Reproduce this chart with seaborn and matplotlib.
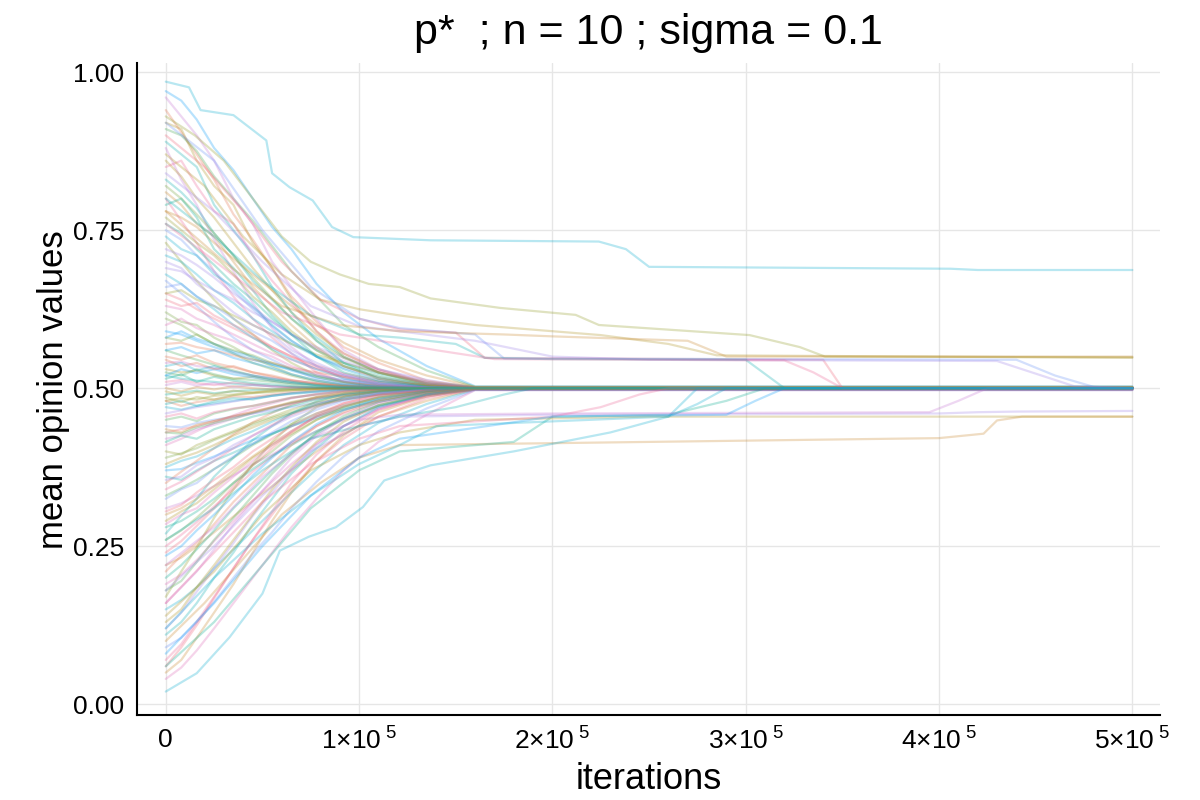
import matplotlib
matplotlib.use("Agg")
import pandas as pd
import matplotlib.pyplot as plt
import seaborn as sns
from matplotlib import font_manager

# knots (thousands of iterations) for the runs that collapse onto 0.5
core_t = [0, 8, 16, 25, 35, 45, 55, 65, 78, 92, 110, 135, 160]

core_runs = [
    [0.97, 0.955, 0.925, 0.88, 0.845, 0.80, 0.755, 0.72, 0.665, 0.62, 0.578, 0.535, 0.503],
    [0.94, 0.905, 0.87, 0.83, 0.775, 0.735, 0.69, 0.645, 0.605, 0.565, 0.54, 0.512, 0.501],
    [0.91, 0.90, 0.875, 0.835, 0.80, 0.765, 0.725, 0.685, 0.645, 0.60, 0.565, 0.528, 0.502],
    [0.88, 0.83, 0.79, 0.735, 0.685, 0.635, 0.595, 0.565, 0.535, 0.515, 0.505, 0.501, 0.500],
    [0.86, 0.835, 0.80, 0.77, 0.73, 0.69, 0.655, 0.62, 0.585, 0.555, 0.53, 0.508, 0.500],
    [0.83, 0.81, 0.785, 0.745, 0.71, 0.67, 0.64, 0.61, 0.58, 0.55, 0.525, 0.507, 0.501],
    [0.80, 0.765, 0.73, 0.685, 0.645, 0.61, 0.58, 0.555, 0.525, 0.51, 0.503, 0.500, 0.500],
    [0.78, 0.77, 0.755, 0.73, 0.705, 0.68, 0.655, 0.63, 0.60, 0.572, 0.545, 0.52, 0.502],
    [0.76, 0.745, 0.72, 0.695, 0.665, 0.64, 0.61, 0.585, 0.56, 0.54, 0.522, 0.506, 0.500],
    [0.73, 0.70, 0.67, 0.64, 0.61, 0.585, 0.56, 0.54, 0.52, 0.51, 0.503, 0.500, 0.499],
    [0.71, 0.70, 0.68, 0.655, 0.635, 0.61, 0.59, 0.57, 0.55, 0.535, 0.518, 0.505, 0.500],
    [0.69, 0.685, 0.67, 0.655, 0.64, 0.62, 0.605, 0.585, 0.565, 0.548, 0.53, 0.513, 0.501],
    [0.67, 0.65, 0.63, 0.605, 0.58, 0.56, 0.545, 0.53, 0.515, 0.507, 0.502, 0.500, 0.500],
    [0.65, 0.64, 0.625, 0.61, 0.595, 0.58, 0.565, 0.55, 0.536, 0.523, 0.513, 0.504, 0.500],
    [0.63, 0.625, 0.61, 0.60, 0.585, 0.57, 0.555, 0.545, 0.53, 0.52, 0.51, 0.503, 0.500],
    [0.61, 0.60, 0.585, 0.57, 0.555, 0.54, 0.53, 0.52, 0.51, 0.504, 0.501, 0.500, 0.500],
    [0.59, 0.585, 0.575, 0.565, 0.555, 0.545, 0.537, 0.53, 0.52, 0.513, 0.507, 0.502, 0.500],
    [0.57, 0.572, 0.565, 0.56, 0.552, 0.545, 0.54, 0.532, 0.525, 0.518, 0.51, 0.505, 0.501],
    [0.56, 0.552, 0.545, 0.537, 0.528, 0.52, 0.514, 0.51, 0.505, 0.502, 0.500, 0.500, 0.500],
    [0.54, 0.542, 0.535, 0.532, 0.526, 0.52, 0.516, 0.512, 0.508, 0.505, 0.502, 0.501, 0.500],
    [0.53, 0.525, 0.528, 0.52, 0.515, 0.518, 0.512, 0.508, 0.506, 0.503, 0.501, 0.500, 0.500],
    [0.52, 0.515, 0.512, 0.51, 0.507, 0.505, 0.503, 0.502, 0.501, 0.500, 0.500, 0.500, 0.500],
    [0.51, 0.513, 0.508, 0.505, 0.509, 0.506, 0.503, 0.502, 0.501, 0.501, 0.500, 0.500, 0.500],
    [0.50, 0.495, 0.502, 0.498, 0.503, 0.500, 0.498, 0.501, 0.500, 0.500, 0.500, 0.500, 0.500],
    [0.49, 0.493, 0.496, 0.492, 0.495, 0.497, 0.498, 0.499, 0.500, 0.500, 0.500, 0.500, 0.500],
    [0.48, 0.484, 0.482, 0.488, 0.49, 0.493, 0.495, 0.497, 0.498, 0.499, 0.500, 0.500, 0.500],
    [0.47, 0.466, 0.472, 0.476, 0.48, 0.484, 0.488, 0.491, 0.494, 0.497, 0.499, 0.500, 0.500],
    [0.46, 0.465, 0.47, 0.474, 0.479, 0.484, 0.488, 0.492, 0.495, 0.498, 0.499, 0.500, 0.500],
    [0.44, 0.438, 0.445, 0.45, 0.455, 0.46, 0.465, 0.47, 0.477, 0.483, 0.49, 0.496, 0.499],
    [0.43, 0.435, 0.44, 0.448, 0.455, 0.463, 0.47, 0.476, 0.483, 0.489, 0.494, 0.498, 0.500],
    [0.41, 0.42, 0.432, 0.445, 0.457, 0.468, 0.476, 0.484, 0.491, 0.496, 0.499, 0.500, 0.500],
    [0.39, 0.397, 0.405, 0.418, 0.43, 0.442, 0.453, 0.462, 0.474, 0.482, 0.49, 0.496, 0.500],
    [0.37, 0.372, 0.382, 0.392, 0.405, 0.418, 0.428, 0.44, 0.453, 0.466, 0.479, 0.49, 0.498],
    [0.35, 0.368, 0.385, 0.405, 0.427, 0.446, 0.461, 0.474, 0.486, 0.494, 0.498, 0.500, 0.500],
    [0.33, 0.342, 0.355, 0.372, 0.39, 0.41, 0.427, 0.443, 0.46, 0.473, 0.485, 0.495, 0.500],
    [0.31, 0.318, 0.33, 0.345, 0.362, 0.38, 0.395, 0.413, 0.432, 0.45, 0.47, 0.487, 0.498],
    [0.29, 0.305, 0.318, 0.34, 0.365, 0.39, 0.41, 0.428, 0.45, 0.466, 0.481, 0.494, 0.500],
    [0.27, 0.298, 0.325, 0.36, 0.39, 0.418, 0.44, 0.46, 0.479, 0.491, 0.497, 0.500, 0.500],
    [0.25, 0.268, 0.288, 0.313, 0.34, 0.368, 0.392, 0.415, 0.44, 0.46, 0.478, 0.493, 0.499],
    [0.22, 0.232, 0.25, 0.272, 0.297, 0.322, 0.345, 0.37, 0.40, 0.428, 0.455, 0.48, 0.498],
    [0.20, 0.22, 0.245, 0.275, 0.31, 0.34, 0.37, 0.398, 0.428, 0.452, 0.473, 0.49, 0.499],
    [0.17, 0.21, 0.248, 0.295, 0.34, 0.38, 0.415, 0.443, 0.47, 0.486, 0.495, 0.499, 0.500],
    [0.15, 0.165, 0.185, 0.215, 0.245, 0.275, 0.305, 0.335, 0.372, 0.41, 0.445, 0.475, 0.498],
    [0.12, 0.145, 0.178, 0.215, 0.255, 0.298, 0.335, 0.37, 0.41, 0.44, 0.468, 0.49, 0.499],
    [0.09, 0.105, 0.13, 0.162, 0.20, 0.238, 0.272, 0.31, 0.352, 0.392, 0.432, 0.468, 0.497],
    [0.06, 0.09, 0.125, 0.168, 0.215, 0.26, 0.30, 0.34, 0.385, 0.42, 0.455, 0.484, 0.498],
    [0.04, 0.058, 0.085, 0.12, 0.16, 0.20, 0.24, 0.28, 0.325, 0.37, 0.415, 0.458, 0.497],
    [0.62, 0.605, 0.60, 0.58, 0.565, 0.548, 0.535, 0.522, 0.512, 0.505, 0.501, 0.500, 0.500],
    [0.58, 0.59, 0.578, 0.57, 0.558, 0.55, 0.538, 0.528, 0.517, 0.51, 0.504, 0.501, 0.500],
    [0.55, 0.545, 0.552, 0.54, 0.533, 0.525, 0.52, 0.513, 0.507, 0.503, 0.501, 0.500, 0.500],
    [0.45, 0.455, 0.448, 0.46, 0.467, 0.472, 0.478, 0.485, 0.49, 0.495, 0.498, 0.500, 0.500],
    [0.42, 0.425, 0.435, 0.442, 0.452, 0.46, 0.468, 0.476, 0.484, 0.49, 0.496, 0.499, 0.500],
    [0.38, 0.39, 0.398, 0.41, 0.425, 0.438, 0.45, 0.46, 0.472, 0.482, 0.49, 0.497, 0.500],
    [0.36, 0.355, 0.37, 0.385, 0.398, 0.412, 0.428, 0.44, 0.456, 0.469, 0.482, 0.493, 0.499],
    [0.34, 0.352, 0.368, 0.385, 0.405, 0.425, 0.442, 0.458, 0.474, 0.486, 0.494, 0.499, 0.500],
    [0.30, 0.31, 0.325, 0.345, 0.37, 0.392, 0.413, 0.432, 0.455, 0.471, 0.485, 0.495, 0.500],
    [0.28, 0.29, 0.305, 0.325, 0.35, 0.372, 0.393, 0.41, 0.432, 0.452, 0.472, 0.489, 0.498],
    [0.65, 0.655, 0.64, 0.63, 0.615, 0.60, 0.585, 0.57, 0.553, 0.54, 0.525, 0.51, 0.502],
    [0.68, 0.665, 0.645, 0.625, 0.60, 0.58, 0.562, 0.546, 0.53, 0.516, 0.506, 0.501, 0.500],
    [0.72, 0.71, 0.695, 0.675, 0.65, 0.628, 0.605, 0.585, 0.562, 0.543, 0.525, 0.509, 0.501],
    [0.75, 0.735, 0.71, 0.685, 0.655, 0.625, 0.598, 0.575, 0.55, 0.532, 0.516, 0.505, 0.500],
    [0.24, 0.258, 0.282, 0.31, 0.345, 0.378, 0.405, 0.43, 0.457, 0.476, 0.49, 0.498, 0.500],
    [0.19, 0.205, 0.228, 0.258, 0.29, 0.322, 0.352, 0.38, 0.412, 0.44, 0.466, 0.487, 0.498],
    [0.82, 0.80, 0.775, 0.745, 0.71, 0.675, 0.642, 0.61, 0.575, 0.548, 0.525, 0.508, 0.501],
    [0.52, 0.53, 0.524, 0.53, 0.522, 0.517, 0.512, 0.508, 0.504, 0.502, 0.500, 0.500, 0.500],
    [0.48, 0.472, 0.478, 0.482, 0.487, 0.486, 0.49, 0.494, 0.497, 0.499, 0.500, 0.500, 0.500],
    [0.43, 0.428, 0.438, 0.445, 0.452, 0.461, 0.469, 0.477, 0.485, 0.491, 0.496, 0.499, 0.500],
    [0.96, 0.93, 0.90, 0.86, 0.80, 0.76, 0.70, 0.66, 0.61, 0.56, 0.53, 0.51, 0.500],
    [0.92, 0.91, 0.86, 0.82, 0.79, 0.73, 0.69, 0.64, 0.59, 0.55, 0.525, 0.505, 0.500],
    [0.89, 0.87, 0.85, 0.79, 0.75, 0.71, 0.66, 0.62, 0.575, 0.54, 0.515, 0.503, 0.500],
    [0.85, 0.86, 0.82, 0.78, 0.76, 0.71, 0.67, 0.635, 0.59, 0.555, 0.528, 0.507, 0.500],
    [0.81, 0.79, 0.76, 0.74, 0.70, 0.66, 0.63, 0.60, 0.565, 0.535, 0.515, 0.503, 0.500],
    [0.79, 0.80, 0.77, 0.72, 0.69, 0.655, 0.615, 0.585, 0.55, 0.525, 0.51, 0.502, 0.500],
    [0.77, 0.75, 0.73, 0.71, 0.68, 0.645, 0.62, 0.59, 0.56, 0.535, 0.518, 0.504, 0.500],
    [0.74, 0.72, 0.71, 0.68, 0.66, 0.63, 0.60, 0.575, 0.55, 0.53, 0.512, 0.502, 0.500],
    [0.70, 0.69, 0.665, 0.645, 0.62, 0.60, 0.585, 0.56, 0.54, 0.522, 0.508, 0.501, 0.500],
    [0.66, 0.665, 0.645, 0.63, 0.61, 0.59, 0.575, 0.555, 0.535, 0.52, 0.507, 0.501, 0.500],
    [0.64, 0.63, 0.635, 0.615, 0.60, 0.585, 0.565, 0.55, 0.532, 0.518, 0.506, 0.501, 0.500],
    [0.60, 0.61, 0.595, 0.585, 0.575, 0.56, 0.55, 0.535, 0.522, 0.511, 0.504, 0.500, 0.500],
    [0.58, 0.575, 0.585, 0.57, 0.56, 0.552, 0.54, 0.53, 0.518, 0.509, 0.503, 0.500, 0.500],
    [0.56, 0.565, 0.555, 0.56, 0.548, 0.54, 0.532, 0.522, 0.512, 0.506, 0.502, 0.500, 0.500],
    [0.545, 0.535, 0.54, 0.53, 0.535, 0.525, 0.518, 0.512, 0.507, 0.503, 0.501, 0.500, 0.500],
    [0.525, 0.52, 0.53, 0.522, 0.515, 0.513, 0.51, 0.506, 0.503, 0.501, 0.500, 0.500, 0.500],
    [0.505, 0.51, 0.504, 0.508, 0.502, 0.505, 0.503, 0.501, 0.500, 0.500, 0.500, 0.500, 0.500],
    [0.495, 0.488, 0.494, 0.49, 0.496, 0.493, 0.497, 0.498, 0.499, 0.500, 0.500, 0.500, 0.500],
    [0.475, 0.48, 0.472, 0.479, 0.484, 0.482, 0.488, 0.492, 0.495, 0.498, 0.499, 0.500, 0.500],
    [0.455, 0.46, 0.452, 0.462, 0.468, 0.472, 0.479, 0.485, 0.49, 0.495, 0.498, 0.500, 0.500],
    [0.435, 0.43, 0.442, 0.448, 0.456, 0.462, 0.47, 0.478, 0.486, 0.492, 0.497, 0.500, 0.500],
    [0.415, 0.425, 0.42, 0.435, 0.445, 0.455, 0.462, 0.472, 0.482, 0.489, 0.495, 0.499, 0.500],
    [0.40, 0.395, 0.41, 0.42, 0.432, 0.445, 0.455, 0.466, 0.478, 0.487, 0.494, 0.499, 0.500],
    [0.375, 0.385, 0.392, 0.405, 0.42, 0.432, 0.447, 0.46, 0.474, 0.485, 0.493, 0.499, 0.500],
    [0.355, 0.36, 0.378, 0.39, 0.41, 0.425, 0.44, 0.455, 0.47, 0.482, 0.492, 0.498, 0.500],
    [0.325, 0.34, 0.35, 0.372, 0.392, 0.412, 0.43, 0.448, 0.466, 0.48, 0.491, 0.498, 0.500],
    [0.305, 0.315, 0.335, 0.355, 0.375, 0.40, 0.42, 0.44, 0.46, 0.476, 0.489, 0.497, 0.500],
    [0.285, 0.30, 0.31, 0.335, 0.36, 0.385, 0.41, 0.432, 0.455, 0.472, 0.487, 0.496, 0.500],
    [0.26, 0.275, 0.295, 0.32, 0.35, 0.378, 0.40, 0.425, 0.45, 0.47, 0.486, 0.496, 0.500],
    [0.235, 0.25, 0.275, 0.30, 0.33, 0.362, 0.39, 0.415, 0.443, 0.465, 0.483, 0.495, 0.500],
    [0.21, 0.235, 0.255, 0.285, 0.32, 0.35, 0.38, 0.41, 0.44, 0.462, 0.481, 0.494, 0.500],
    [0.18, 0.195, 0.225, 0.26, 0.295, 0.33, 0.365, 0.395, 0.43, 0.456, 0.478, 0.493, 0.500],
    [0.16, 0.185, 0.21, 0.245, 0.285, 0.32, 0.355, 0.39, 0.425, 0.452, 0.476, 0.492, 0.500],
    [0.13, 0.15, 0.185, 0.22, 0.26, 0.30, 0.34, 0.375, 0.415, 0.447, 0.473, 0.491, 0.500],
    [0.11, 0.13, 0.16, 0.20, 0.24, 0.285, 0.325, 0.365, 0.405, 0.44, 0.47, 0.49, 0.499],
    [0.07, 0.095, 0.13, 0.17, 0.215, 0.26, 0.305, 0.35, 0.395, 0.432, 0.466, 0.489, 0.499],
    [0.05, 0.07, 0.105, 0.145, 0.19, 0.24, 0.29, 0.335, 0.385, 0.425, 0.462, 0.487, 0.499],
    [0.515, 0.522, 0.51, 0.518, 0.512, 0.508, 0.506, 0.503, 0.501, 0.500, 0.500, 0.500, 0.500],
    [0.485, 0.478, 0.486, 0.482, 0.489, 0.492, 0.494, 0.497, 0.499, 0.500, 0.500, 0.500, 0.500],
    [0.535, 0.54, 0.528, 0.535, 0.526, 0.52, 0.515, 0.51, 0.505, 0.502, 0.501, 0.500, 0.500],
]

# runs that stay off-centre for a long time: own knots (thousands) + values
slow_t = [
    [0, 12, 18, 35, 52, 55, 64, 76, 86, 97, 137, 224, 238, 250, 406, 420, 500],
    [0, 15, 30, 45, 60, 75, 90, 105, 121, 137, 173, 212, 224, 302, 328, 341, 500],
    [0, 20, 40, 60, 80, 100, 121, 160, 225, 260, 285, 500],
    [0, 20, 40, 60, 80, 100, 121, 150, 165, 340, 350, 500],
    [0, 25, 50, 75, 100, 121, 160, 175, 440, 460, 480, 500],
    [0, 25, 50, 75, 100, 121, 160, 200, 250, 430, 470, 500],
    [0, 25, 50, 75, 100, 121, 150, 165, 200, 300, 320, 500],
    [0, 30, 60, 90, 121, 175, 200, 270, 290, 500],
    [0, 30, 60, 90, 121, 140, 170, 320, 335, 350, 500],
    [0, 20, 40, 60, 80, 100, 121, 200, 300, 400, 423, 430, 443, 500],
    [0, 16, 33, 50, 59, 74, 88, 102, 113, 137, 180, 230, 260, 275, 500],
    [0, 25, 50, 75, 100, 121, 180, 200, 260, 290, 310, 500],
    [0, 25, 50, 75, 100, 121, 160, 250, 500],
    [0, 25, 50, 75, 100, 121, 200, 400, 420, 440, 500],
    [0, 25, 50, 75, 100, 121, 200, 395, 410, 425, 500],
    [0, 25, 50, 75, 100, 121, 200, 225, 245, 260, 500],
    [0, 25, 50, 75, 100, 121, 200, 290, 305, 320, 500],
    [0, 25, 50, 75, 100, 121, 150, 175, 190, 500],
    [0, 25, 50, 75, 100, 121, 140, 260, 275, 290, 500],
]
slow_v = [
    [0.985, 0.976, 0.94, 0.932, 0.892, 0.84, 0.818, 0.797, 0.755, 0.739, 0.734, 0.732, 0.72, 0.692, 0.689, 0.687, 0.687],
    [0.93, 0.90, 0.86, 0.80, 0.74, 0.70, 0.68, 0.665, 0.66, 0.642, 0.627, 0.616, 0.60, 0.584, 0.565, 0.55, 0.549],
    [0.87, 0.82, 0.74, 0.68, 0.64, 0.625, 0.615, 0.60, 0.584, 0.57, 0.552, 0.548],
    [0.90, 0.85, 0.78, 0.70, 0.64, 0.61, 0.593, 0.588, 0.548, 0.545, 0.50, 0.50],
    [0.92, 0.86, 0.75, 0.66, 0.61, 0.595, 0.585, 0.547, 0.545, 0.52, 0.502, 0.50],
    [0.84, 0.78, 0.70, 0.63, 0.598, 0.59, 0.575, 0.55, 0.545, 0.543, 0.503, 0.50],
    [0.80, 0.74, 0.67, 0.615, 0.585, 0.58, 0.57, 0.548, 0.546, 0.545, 0.50, 0.50],
    [0.78, 0.70, 0.63, 0.60, 0.59, 0.585, 0.582, 0.575, 0.55, 0.55],
    [0.76, 0.69, 0.62, 0.585, 0.57, 0.56, 0.546, 0.544, 0.525, 0.50, 0.50],
    [0.10, 0.16, 0.23, 0.30, 0.35, 0.39, 0.41, 0.413, 0.417, 0.421, 0.428, 0.449, 0.455, 0.455],
    [0.02, 0.049, 0.106, 0.175, 0.243, 0.265, 0.28, 0.312, 0.354, 0.378, 0.40, 0.43, 0.455, 0.50, 0.50],
    [0.06, 0.13, 0.22, 0.31, 0.37, 0.40, 0.415, 0.455, 0.458, 0.48, 0.50, 0.50],
    [0.14, 0.21, 0.30, 0.37, 0.41, 0.43, 0.45, 0.455, 0.455],
    [0.18, 0.25, 0.33, 0.40, 0.44, 0.455, 0.458, 0.46, 0.462, 0.463, 0.464],
    [0.22, 0.28, 0.36, 0.42, 0.45, 0.458, 0.46, 0.462, 0.48, 0.50, 0.50],
    [0.16, 0.24, 0.32, 0.38, 0.42, 0.44, 0.455, 0.47, 0.49, 0.50, 0.50],
    [0.08, 0.16, 0.25, 0.33, 0.39, 0.42, 0.455, 0.458, 0.48, 0.50, 0.50],
    [0.26, 0.31, 0.37, 0.42, 0.44, 0.455, 0.47, 0.49, 0.50, 0.50],
    [0.12, 0.20, 0.27, 0.33, 0.38, 0.41, 0.44, 0.455, 0.475, 0.50, 0.50],
]

julia = ["#009AFA", "#E36F47", "#3EA44E", "#C371D2", "#AC8E18", "#00AAAE",
         "#ED5E93", "#C68225", "#00A98D", "#8E971D", "#00A9CD", "#9B7FE8",
         "#618DF6", "#F05F73", "#DD65B6", "#6C9F33"]
slow_colors = ["#00A9CD", "#8E971D", "#AC8E18", "#F05F73", "#618DF6", "#9B7FE8",
               "#00AAAE", "#C68225", "#ED5E93", "#C68225", "#00A9CD", "#00A98D",
               "#AC8E18", "#9B7FE8", "#C371D2", "#ED5E93", "#009AFA", "#00AAAE",
               "#00A9CD"]

rows = []
colors = []
for i, vals in enumerate(core_runs):
    xs = [t * 1000 for t in core_t] + [500000]
    ys = vals + [vals[-1]]
    name = f"c{i:03d}"
    rows += [(x, y, name) for x, y in zip(xs, ys)]
    colors.append(julia[i % len(julia)])
for i, (ts, vals) in enumerate(zip(slow_t, slow_v)):
    name = f"s{i:02d}"
    rows += [(t * 1000, v, name) for t, v in zip(ts, vals)]
    colors.append(slow_colors[i])
df = pd.DataFrame(rows, columns=["iterations", "value", "run"])

names = [f"c{i:03d}" for i in range(len(core_runs))] + [f"s{i:02d}" for i in range(len(slow_t))]

sns.set_style("white")
have_narrow = any(f.name == "Liberation Sans Narrow" for f in font_manager.fontManager.ttflist)
fam = "Liberation Sans Narrow" if have_narrow else "Liberation Sans"
plt.rcParams["font.family"] = [fam, "DejaVu Sans"]
plt.rcParams["mathtext.fontset"] = "custom"
plt.rcParams["mathtext.rm"] = fam
plt.rcParams["mathtext.it"] = fam
plt.rcParams["text.color"] = "black"
plt.rcParams["axes.labelcolor"] = "black"
plt.rcParams["xtick.color"] = "black"
plt.rcParams["ytick.color"] = "black"

fig, ax = plt.subplots(figsize=(12, 8), dpi=100)
fig.subplots_adjust(left=0.114, right=0.967, bottom=0.106, top=0.921)

sns.lineplot(data=df, x="iterations", y="value", hue="run", hue_order=names,
             units="run", estimator=None, palette=colors,
             alpha=0.28, lw=1.6, legend=False, sort=False, ax=ax)

ax.set_xlim(-15000, 514500)
ax.set_ylim(-0.0174, 1.0142)
ax.set_xticks([0, 100000, 200000, 300000, 400000, 500000])
ax.set_xticklabels(["0"] + [f"{k}×10$^{{\\ 5}}$" for k in range(1, 6)])
ax.set_yticks([0.0, 0.25, 0.5, 0.75, 1.0])
ax.set_yticklabels(["0.00", "0.25", "0.50", "0.75", "1.00"])
ax.grid(True, color="#e6e6e6", lw=1)
for s in ["top", "right"]:
    ax.spines[s].set_visible(False)
for s in ["left", "bottom"]:
    ax.spines[s].set_color("black")
    ax.spines[s].set_linewidth(1.5)
ax.tick_params(axis="y", direction="in", length=11, width=1.5, labelsize=19, pad=9)
ax.tick_params(axis="x", direction="in", length=7, width=1.5, labelsize=19, pad=9)

ax.set_title("p*  ; n = 10 ; sigma = 0.1", fontsize=31, pad=14)
ax.set_xlabel("iterations", fontsize=26, labelpad=5)
ax.set_ylabel("mean opinion values", fontsize=25, labelpad=2)

fig.savefig("out.png", dpi=100)
